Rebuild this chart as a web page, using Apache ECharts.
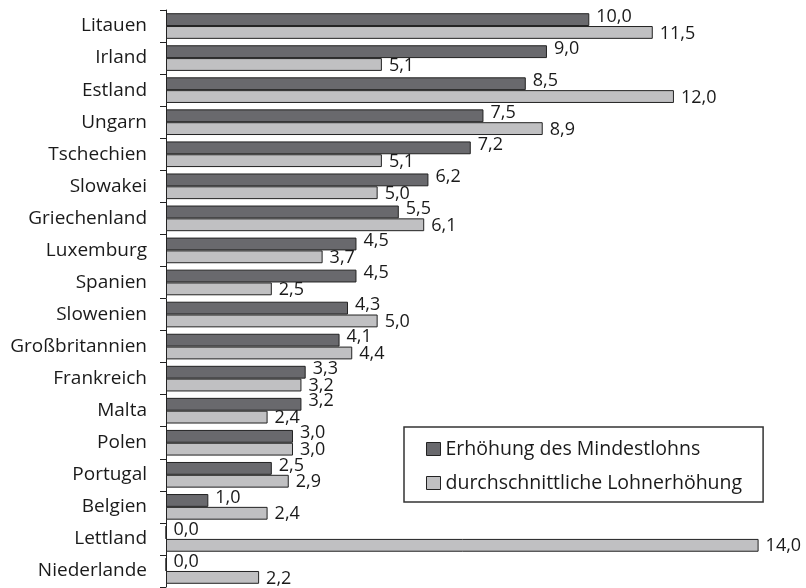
<!DOCTYPE html>
<html>
<head>
<meta charset="utf-8">
<script src="https://cdn.jsdelivr.net/npm/echarts@6/dist/echarts.min.js"></script>
<style>
html,body{margin:0;padding:0;background:#fff;}
#chart{width:806px;height:588px;}
</style>
</head>
<body>
<div id="chart"></div>
<script>
const categories = ["Litauen","Irland","Estland","Ungarn","Tschechien","Slowakei","Griechenland","Luxemburg","Spanien","Slowenien","Großbritannien","Frankreich","Malta","Polen","Portugal","Belgien","Lettland","Niederlande"];
const mindestlohn = [10.0,9.0,8.5,7.5,7.2,6.2,5.5,4.5,4.5,4.3,4.1,3.3,3.2,3.0,2.5,1.0,0.0,0.0];
const lohnerhoehung = [11.5,5.1,12.0,8.9,5.1,5.0,6.1,3.7,2.5,5.0,4.4,3.2,2.4,3.0,2.9,2.4,14.0,2.2];
const seriesNames = ["Erhöhung des Mindestlohns","durchschnittliche Lohnerhöhung"];

const FONT = '"Open Sans", sans-serif';
const fmt = p => p.value.toFixed(1).replace('.', ',');

const chart = echarts.init(document.getElementById('chart'), null, {renderer:'canvas'});
chart.setOption({
  animation: false,
  backgroundColor: '#ffffff',
  textStyle: {fontFamily: FONT},
  grid: {left: 166, top: 10, width: 592.6, height: 577, containLabel: false},
  legend: {
    orient: 'vertical',
    left: 404, top: 427,
    data: seriesNames,
    icon: 'rect',
    itemWidth: 14, itemHeight: 13,
    itemGap: 14,
    itemStyle: {borderColor: '#222', borderWidth: 1},
    textStyle: {fontFamily: FONT, fontSize: 19.5, color: '#1a1a1a'},
    backgroundColor: '#fff',
    borderColor: '#333', borderWidth: 1.5,
    padding: [12, 21, 9, 22],
    itemTextGap: 6
  },
  xAxis: {
    type: 'value', min: 0, max: 14,
    show: false
  },
  yAxis: {
    type: 'category', data: categories, inverse: true,
    axisLine: {show: true, lineStyle: {color: '#222', width: 1}},
    axisTick: {show: true, length: 6, lineStyle: {color: '#222'}},
    axisLabel: {fontFamily: FONT, fontSize: 19, color: '#1a1a1a', margin: 19}
  },
  series: [
    {
      name: seriesNames[0], type: 'bar', data: mindestlohn,
      barGap: '0%', barCategoryGap: '20%',
      itemStyle: {color: '#69696d', borderColor: '#222', borderWidth: 1},
      label: {show: true, position: 'right', distance: 7, offset: [0, -3], formatter: fmt,
        fontFamily: FONT, fontSize: 18, color: '#1a1a1a'}
    },
    {
      name: seriesNames[1], type: 'bar', data: lohnerhoehung,
      barGap: '0%', barCategoryGap: '20%',
      itemStyle: {color: '#c0c0c2', borderColor: '#222', borderWidth: 1},
      label: {show: true, position: 'right', distance: 7, offset: [0, 1], formatter: fmt,
        fontFamily: FONT, fontSize: 18, color: '#1a1a1a'}
    }
  ]
});
</script>
</body>
</html>
